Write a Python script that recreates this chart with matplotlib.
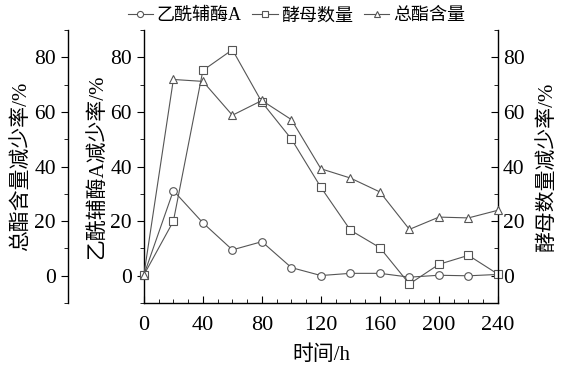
import matplotlib
matplotlib.use('Agg')
import matplotlib.pyplot as plt
from matplotlib.ticker import MultipleLocator

plt.rcParams['font.family'] = ['Liberation Serif', 'Noto Sans CJK SC']
plt.rcParams['font.size'] = 15

# data
hours = [0, 20, 40, 60, 80, 100, 120, 140, 160, 180, 200, 220, 240]
acetyl_coa = [0.3, 31.2, 19.4, 9.5, 12.5, 3.0, 0.1, 0.9, 0.9, -0.5, 0.2, 0.0, 0.5]
yeast = [0.3, 20.0, 75.2, 82.8, 63.6, 50.1, 32.4, 16.7, 10.3, -3.0, 4.2, 7.5, 0.6]
ester = [0.3, 71.9, 71.2, 58.8, 64.2, 57.2, 39.2, 35.8, 30.7, 17.0, 21.5, 21.2, 24.0]

names = ['乙酰辅酶A', '酵母数量', '总酯含量']
ylabels = ['乙酰辅酶A减少率/%', '酵母数量减少率/%', '总酯含量减少率/%']

line_kw = dict(color='#555555', linewidth=0.8, markersize=5.5,
               markerfacecolor='white', markeredgewidth=0.8, clip_on=False)

fig = plt.figure(figsize=(5.62, 3.71), dpi=100)
ax = fig.add_axes([0.256, 0.183, 0.630, 0.736])
ax_r = ax.twinx()
ax_l = ax.twinx()

l1, = ax.plot(hours, acetyl_coa, marker='o', label=names[0], **line_kw)
l2, = ax_r.plot(hours, yeast, marker='s', label=names[1], **line_kw)
l3, = ax_l.plot(hours, ester, marker='^', label=names[2], **line_kw)

ax.set_xlim(0, 240)
ax.xaxis.set_major_locator(MultipleLocator(40))
ax.xaxis.set_minor_locator(MultipleLocator(10))
ax.tick_params(axis='x', which='both', direction='in', top=False)
ax.tick_params(axis='x', which='major', length=5, pad=9, labelsize=16)
ax.tick_params(axis='x', which='minor', length=3)
ax.set_xlabel('时间/h', labelpad=8)

for a in (ax, ax_r, ax_l):
    a.set_ylim(-10, 90)
    a.yaxis.set_major_locator(MultipleLocator(20))
    a.yaxis.set_minor_locator(MultipleLocator(10))
    a.spines['top'].set_visible(False)
    for s in a.spines.values():
        s.set_linewidth(1.0)

ax.spines['right'].set_visible(False)
ax.tick_params(axis='y', which='both', direction='out', right=False)
ax.set_ylabel(ylabels[0], labelpad=2)

ax_r.spines['left'].set_visible(False)
ax_r.spines['bottom'].set_visible(False)
ax_r.tick_params(axis='y', which='both', direction='in')
ax_r.set_ylabel(ylabels[1], labelpad=9)

# outer left axis for total ester
ax_l.spines['right'].set_visible(False)
ax_l.spines['bottom'].set_visible(False)
ax_l.spines['left'].set_visible(True)
ax_l.spines['left'].set_position(('axes', -0.215))
ax_l.yaxis.set_label_position('left')
ax_l.yaxis.set_ticks_position('left')
ax_l.tick_params(axis='y', which='both', direction='out')
ax_l.set_ylabel(ylabels[2], labelpad=2)

for a in (ax, ax_r, ax_l):
    a.tick_params(axis='y', which='major', length=5, labelsize=15.5)
    a.tick_params(axis='y', which='minor', length=3)

fig.legend([l1, l2, l3], names, loc='upper center', bbox_to_anchor=(0.527, 1.005),
           ncol=3, frameon=False, handlelength=1.4, handletextpad=0.2,
           columnspacing=0.6, borderaxespad=0.1, fontsize=13, markerscale=0.8)

fig.savefig('out.png', dpi=100)
